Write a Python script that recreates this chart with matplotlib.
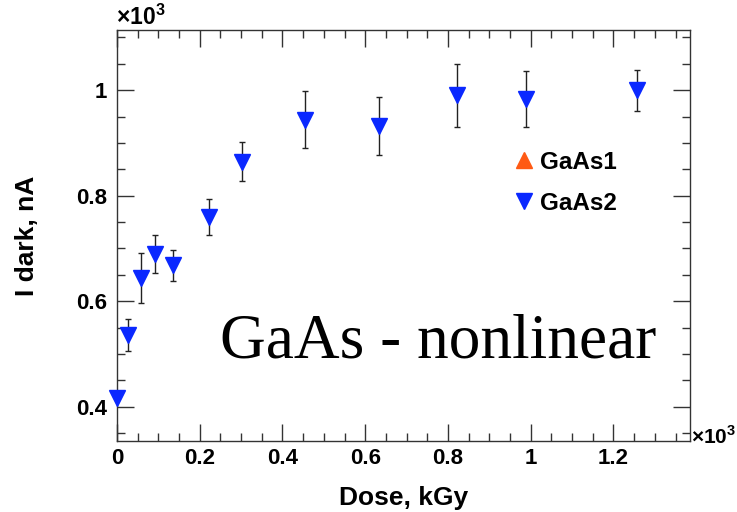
import matplotlib
matplotlib.use("Agg")
import matplotlib.pyplot as plt
from matplotlib.ticker import MultipleLocator, FuncFormatter

# dark current vs dose, GaAs sample 2
dose = [0, 26, 59, 92, 136, 222, 303, 454, 633, 821, 988, 1258]
idark = [417, 536, 644, 689, 668, 760, 864, 944, 932, 990, 983, 1000]
idark_err = [3, 31, 47, 36, 29, 34, 37, 54, 55, 60, 53, 39]

blue = "#0a28ff"
orange = "#ff5a14"

plt.rcParams["font.family"] = ["Liberation Sans", "DejaVu Sans"]
plt.rcParams["font.weight"] = "bold"
plt.rcParams["mathtext.fontset"] = "custom"
plt.rcParams["mathtext.rm"] = "Liberation Sans:bold"
plt.rcParams["mathtext.bf"] = "Liberation Sans:bold"

fig = plt.figure(figsize=(7.37, 5.12), dpi=100)
ax = fig.add_axes([117 / 737, 71 / 512, 573 / 737, 411 / 512])

# GaAs1 has no points here, only a legend entry
ax.plot([], [], "^", color=orange, markersize=12, label="GaAs1")
ax.errorbar(dose, idark, yerr=idark_err, fmt="none", ecolor="#222222",
            elinewidth=1, capsize=2.5, capthick=1, zorder=2)
ax.plot(dose, idark, "v", color=blue, markersize=12, linestyle="none",
        label="GaAs2", zorder=3, clip_on=False)

ax.set_xlim(0, 1385)
ax.set_ylim(335, 1114)

ax.xaxis.set_major_locator(MultipleLocator(200))
ax.xaxis.set_minor_locator(MultipleLocator(50))
ax.yaxis.set_major_locator(MultipleLocator(200))
ax.yaxis.set_minor_locator(MultipleLocator(50))
fmt = FuncFormatter(lambda v, p: ("%g" % round(v / 1000, 3)))
ax.xaxis.set_major_formatter(fmt)
ax.yaxis.set_major_formatter(fmt)

ax.tick_params(which="both", direction="in", top=True, right=True,
               width=1, color="#333333", labelsize=16)
ax.tick_params(which="major", length=12)
ax.tick_params(which="minor", length=6)
ax.tick_params(axis="x", which="major", pad=5)
ax.tick_params(axis="y", which="major", pad=7)
for s in ax.spines.values():
    s.set_color("#333333")
    s.set_linewidth(1)

ax.set_xlabel("Dose, kGy", fontsize=19, fontweight="bold", labelpad=12)
ax.set_ylabel("I dark, nA", fontsize=19, fontweight="bold", labelpad=27)

# exponent markers
fig.text(116 / 737, 1 - 17 / 512, r"×10$^{3}$", fontsize=16.5, ha="left", va="center")
fig.text(691 / 737, 1 - 436 / 512, r"×10$^{3}$", fontsize=15, ha="left", va="center")

fig.text(220 / 737, 1 - 358 / 512, "GaAs - nonlinear", fontsize=45.5,
         family="Liberation Serif", fontweight="normal", ha="left", va="baseline")

leg = ax.legend(loc="upper left", bbox_to_anchor=(500 / 737, 1 - 141 / 512),
                bbox_transform=fig.transFigure, frameon=False, fontsize=17.5,
                handletextpad=0.05, labelspacing=0.75, handlelength=1.2,
                borderaxespad=0)

fig.savefig("out.png", dpi=100)
